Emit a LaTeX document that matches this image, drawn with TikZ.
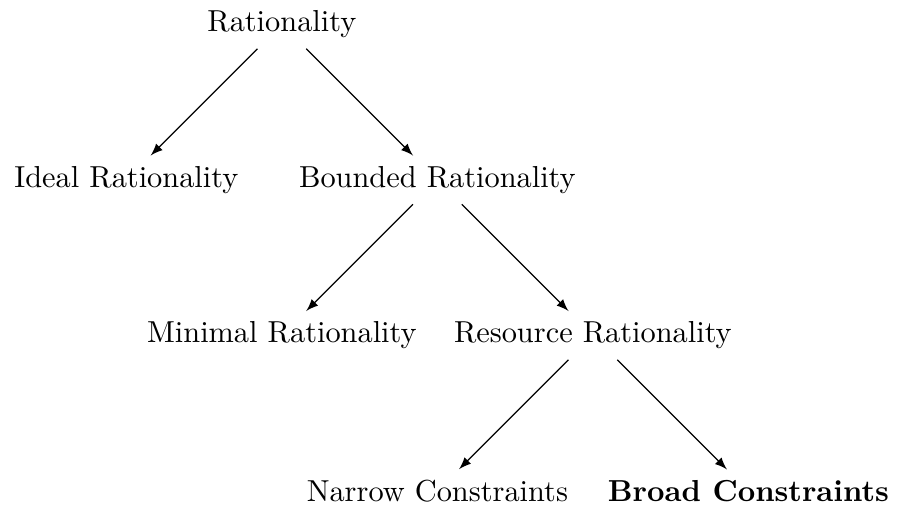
\documentclass[tikz,border=0pt]{standalone}
\usepackage{amsmath,amssymb}
\usepackage{tikz}
\usetikzlibrary{positioning, arrows.meta}

\begin{document}
\begin{tikzpicture}[node distance=1.8cm and 1.8cm, on grid,
			lvl/.style={align=center},
			arr/.style={-latex}]
			\node[lvl] (rat) {Rationality};
			\node[lvl, below left=of rat] (ideal) {Ideal Rationality};
			\node[lvl, below right=of rat] (bounded) {Bounded Rationality};
			\node[lvl, below left=of bounded] (minimal) {Minimal Rationality};
			\node[lvl, below right=of bounded] (resource) {Resource Rationality};
			\node[lvl, below left=of resource] (narrow) {Narrow Constraints};
			\node[lvl, below right=of resource] (broad) {\textbf{Broad Constraints}};
			\draw[arr] (rat) -- (ideal);
			\draw[arr] (rat) -- (bounded);
			\draw[arr] (bounded) -- (minimal);
			\draw[arr] (bounded) -- (resource);
			\draw[arr] (resource) -- (narrow);
			\draw[arr] (resource) -- (broad);
			\useasboundingbox ([xshift=-1.2pt]ideal.west |- rat.north) rectangle ([xshift=-1.2pt]broad.east |- narrow.south);
		\end{tikzpicture}
\end{document}
